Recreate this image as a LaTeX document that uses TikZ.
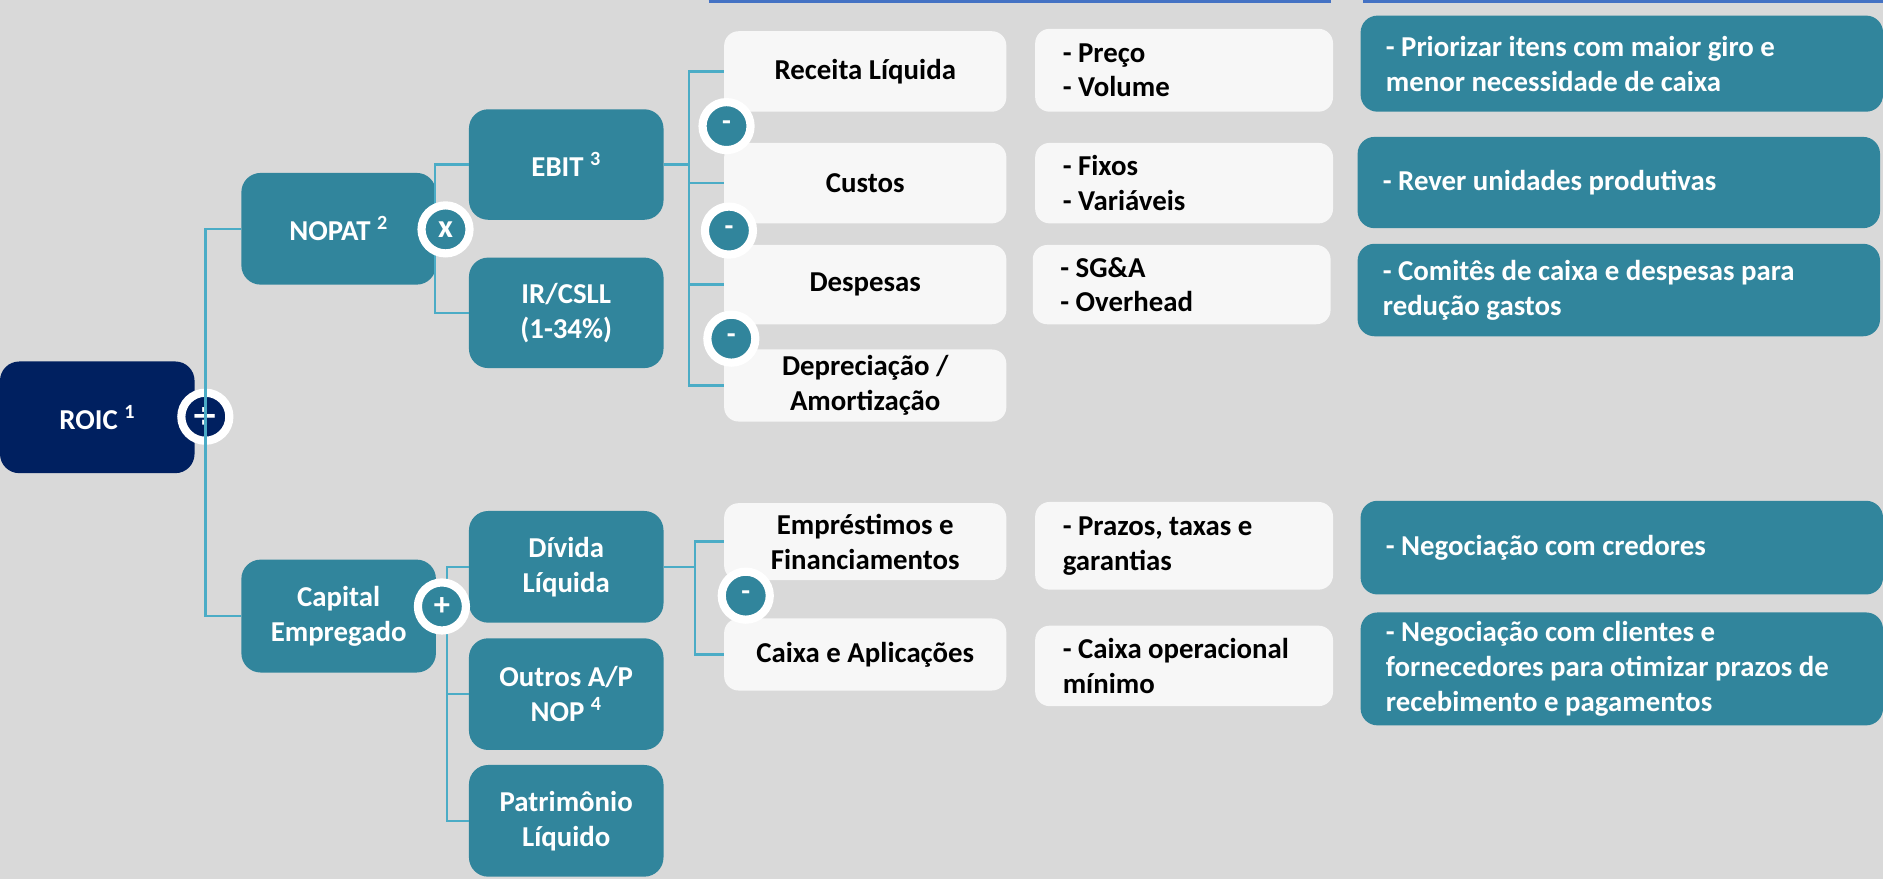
\documentclass[tikz,border=0pt]{standalone}
\usepackage{fontspec}
\setmainfont{Carlito}
\newfontfamily\symfont{DejaVu Sans}
\usetikzlibrary{shadows}
\definecolor{bgc}{HTML}{D9D9D9}
\definecolor{tealbox}{HTML}{31859C}
\definecolor{navybox}{HTML}{002060}
\definecolor{connc}{HTML}{4BACC6}
\definecolor{lightbox}{HTML}{F7F7F7}
\definecolor{toplc}{HTML}{4472C4}
\begin{document}
\begin{tikzpicture}[x=1pt,y=-1pt,
  font=\bfseries\fontsize{24}{29}\selectfont,
  tbox/.style={rectangle, rounded corners=16, fill=tealbox, text=white, minimum width=162, minimum height=92, align=center, inner sep=0},
  lbox/.style={rectangle, rounded corners=12, fill=lightbox, text=black, minimum width=235, align=center, inner sep=0},
  mbox/.style={rectangle, rounded corners=12, fill=lightbox, text=black, minimum width=248, text width=202, align=flush left, inner sep=0},
  abox/.style={rectangle, rounded corners=14, fill=tealbox, text=white, minimum width=435, text width=393, align=flush left, inner sep=0},
  opc/.style={circle, draw=white, line width=6.8, fill=tealbox, text=white, minimum size=40, inner sep=0,
    font=\bfseries\fontsize{27}{27}\selectfont,
    drop shadow={shadow xshift=1.5pt, shadow yshift=-2pt, opacity=0.35, fill=black!70}},
  conn/.style={draw=connc, line width=2},
  topl/.style={draw=toplc, line width=2.2}]
\useasboundingbox (0,0) rectangle (1568,732);
\fill[bgc] (0,0) rectangle (1568,732);
\draw[topl] (590,1) -- (1108,1);
\draw[topl] (1135,1) -- (1568,1);

% level boxes
\node[tbox, fill=navybox, minimum height=93] (roic) at (81,347.5) {ROIC \textsuperscript{1}};
\node[tbox, minimum height=93] (nopat) at (282,190.5) {NOPAT \textsuperscript{2}};
\node[tbox, minimum height=94] (cap) at (282,513) {Capital\\Empregado};
\node[tbox] (ebit) at (471.5,137) {EBIT \textsuperscript{3}};
\node[tbox] (ir) at (471.5,260.5) {IR/CSLL\\(1-34\%)};
\node[tbox, minimum height=93] (div) at (471.5,472) {Dívida\\Líquida};
\node[tbox, minimum height=93] (out) at (471.5,578) {Outros A/P\\NOP \textsuperscript{4}};
\node[tbox, minimum height=93] (pat) at (471.5,683.5) {Patrimônio\\Líquido};

% light boxes
\node[lbox, minimum height=67] (rec) at (720.5,59.5) {Receita Líquida};
\node[lbox, minimum height=67] (cus) at (720.5,152.5) {Custos};
\node[lbox, minimum height=66] (des) at (720.5,237) {Despesas};
\node[lbox, minimum height=60] (dep) at (720.5,321) {Depreciação /\\Amortização};
\node[lbox, minimum height=64] (emp) at (720.5,451) {Empréstimos e\\Financiamentos};
\node[lbox, minimum height=60] (cai) at (720.5,545) {Caixa e Aplicações};

% middle boxes
\node[mbox, minimum height=69] (pre) at (986,58.5) {- Preço\\- Volume};
\node[mbox, minimum height=67] (fix) at (986,152.5) {- Fixos\\- Variáveis};
\node[mbox, minimum height=66] (sga) at (984,237) {- SG\&A\\- Overhead};
\node[mbox, minimum height=73] (pra) at (986,454.5) {- Prazos, taxas e\\garantias};
\node[mbox, minimum height=67] (cop) at (986,554.5) {- Caixa operacional\\mínimo};

% action boxes
\node[abox, minimum height=80] (a1) at (1350.5,53) {- Priorizar itens com maior giro e\\menor necessidade de caixa};
\node[abox, minimum height=76] (a2) at (1348,152) {- Rever unidades produtivas};
\node[abox, minimum height=77] (a3) at (1348,241.5) {- Comitês de caixa e despesas para\\redução gastos};
\node[abox, minimum height=78] (a4) at (1350.5,456) {- Negociação com credores};
\node[abox, minimum height=94] (a5) at (1350.5,557) {- Negociação com clientes e\\fornecedores para otimizar prazos de\\recebimento e pagamentos};

% connectors (behind circles)
\draw[conn] (ebit.west) -- ++(-28,0) |- (ir.west);
\draw[conn] (div.west) -- ++(-18,0) |- (pat.west);
\draw[conn] (out.west) -- ++(-18,0);
\draw[conn] (ebit.east) -- ++(21,0) coordinate (s1);
\draw[conn] (rec.west) -| (s1);
\draw[conn] (dep.west) -| (s1);
\draw[conn] (cus.west) -- (cus.west -| s1);
\draw[conn] (des.west) -- (des.west -| s1);
\draw[conn] (div.east) -- ++(26,0) coordinate (s2);
\draw[conn] (emp.west) -| (s2);
\draw[conn] (cai.west) -| (s2);

% operator circles
\node[opc, fill=navybox] (divc) at (171,347) {{\symfont\bfseries ÷}};
\node[opc] (mulc) at (371,191) {x};
\node[opc] (plusc) at (368,505) {+};
\node[opc, font=\bfseries\fontsize{24}{24}\selectfont] (m1) at (605,105) {-};
\node[opc, font=\bfseries\fontsize{24}{24}\selectfont] (m2) at (607,192) {-};
\node[opc, font=\bfseries\fontsize{24}{24}\selectfont] (m3) at (609,282) {-};
\node[opc, font=\bfseries\fontsize{24}{24}\selectfont] (m4) at (621,496) {-};

% ROIC connector drawn over its circle
\draw[conn] (nopat.west) -| (divc.center) |- (cap.west);
\end{tikzpicture}
\end{document}
